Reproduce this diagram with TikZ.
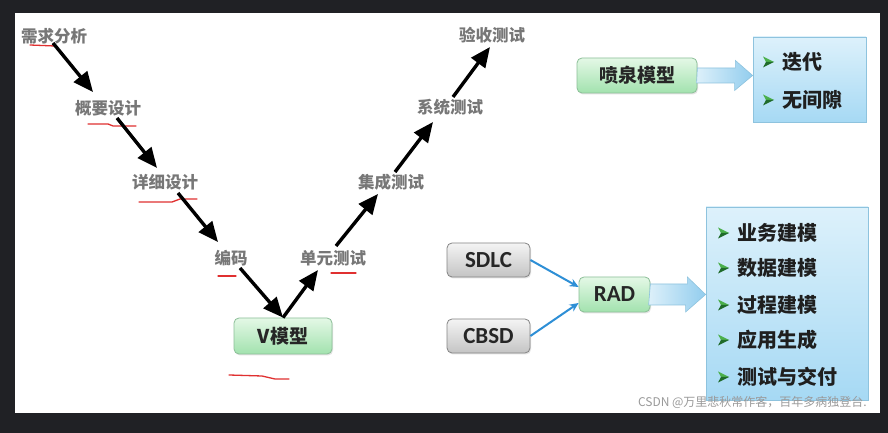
\documentclass[tikz,border=0pt]{standalone}
\usepackage{fontspec}
\newfontfamily\cjk{Noto Sans CJK SC}
\newfontfamily\lat{Carlito}
\usetikzlibrary{arrows.meta,shadows,calc}
\definecolor{framec}{HTML}{202125}
\definecolor{lblc}{HTML}{777777}
\definecolor{ulred}{HTML}{E03030}
\definecolor{gtop}{HTML}{E4F8E6}
\definecolor{gbot}{HTML}{A2E2AE}
\definecolor{gbord}{HTML}{8CBF98}
\definecolor{btop}{HTML}{DDF1FB}
\definecolor{bbot}{HTML}{A6D9F4}
\definecolor{bbord}{HTML}{8EC3DE}
\definecolor{grtop}{HTML}{F4F4F4}
\definecolor{grbot}{HTML}{C4C4C4}
\definecolor{grbord}{HTML}{858585}
\definecolor{blueln}{HTML}{2E8FD6}
\definecolor{bulletc}{HTML}{4CB04C}
\definecolor{bulletd}{HTML}{1F6B2A}
\definecolor{aleft}{HTML}{DDF0FA}
\definecolor{aright}{HTML}{92CDEE}
\definecolor{wmark}{HTML}{9A9A9A}
\begin{document}
\begin{tikzpicture}[x=1pt,y=1pt,
  lbl/.style={font=\cjk\bfseries\fontsize{16.5}{18}\selectfont, text=lblc, inner sep=0pt},
  vline/.style={line width=3.4pt, -{Triangle[length=20pt,width=17pt]}},
  ul/.style={ulred, line width=1.3pt, line cap=round, line join=round},
  gbox/.style={draw=gbord, line width=0.8pt, rounded corners=5pt, top color=gtop, bottom color=gbot,
    drop shadow={opacity=0.22,shadow xshift=1pt,shadow yshift=-1.5pt},
    font=\cjk\bfseries\fontsize{19}{21}\selectfont, text=black!85, inner sep=0pt},
  graybox/.style={draw=grbord, line width=0.8pt, rounded corners=5pt, top color=grtop, bottom color=grbot,
    drop shadow={opacity=0.22,shadow xshift=1pt,shadow yshift=-1.5pt},
    font=\lat\bfseries\fontsize{23}{25}\selectfont, text=black!85, inner sep=0pt,
    minimum width=83pt, minimum height=34pt},
  bluebox/.style={draw=bbord, line width=0.8pt, top color=btop, bottom color=bbot, inner sep=0pt,
    drop shadow={opacity=0.18,shadow xshift=1pt,shadow yshift=-1.5pt}},
  item/.style={font=\cjk\bfseries\fontsize{20}{22}\selectfont, text=black!88, inner sep=0pt, anchor=west},
  barrow/.style={draw=bbord, line width=0.6pt, left color=aleft, right color=aright},
  thinarrow/.style={blueln, line width=2pt, -{Stealth[length=9pt,width=8pt]}},
  bulletpic/.pic={
    \fill[bulletc] (6,0) -- (-5,5.5) -- (-2,0) -- cycle;
    \fill[bulletd] (6,0) -- (-2,0) -- (-5,-5.5) -- cycle;}
]
\useasboundingbox (0,0) rectangle (888,433);
\fill[framec] (0,0) rectangle (888,433);
\fill[white] (15,20) rectangle (880,420);

% V-model labels
\node[lbl] (n1) at (54,397) {需求分析};
\node[lbl] (n2) at (108,325) {概要设计};
\node[lbl] (n3) at (165,251) {详细设计};
\node[lbl] (n4) at (231,175) {编码};
\node[lbl] (n5) at (333,175) {单元测试};
\node[lbl] (n6) at (391,251) {集成测试};
\node[lbl] (n7) at (450,326) {系统测试};
\node[lbl] (n8) at (492,398) {验收测试};
\node[gbox, minimum width=98pt, minimum height=36pt] (v) at (283,97) {V模型};

% red hand-drawn underlines
\draw[ul] (30,388) -- (55,387);
\draw[ul] (88,309) -- (108,309) -- (113,307) -- (136,307);
\draw[ul] (139,231) -- (172,231) -- (180,234) -- (197,234);
\draw[ul] (218,157) -- (236,157);
\draw[ul] (331,160) -- (356,160);
\draw[ul] (229,58) -- (262,57) -- (275,54) -- (289,54);

% V-model arrows
\draw[vline] ([shift={(-1,-7)}]n1.center) -- ([shift={(-15,16)}]n2.center);
\draw[vline] ([shift={(9,-10)}]n2.center) -- ([shift={(-8,14)}]n3.center);
\draw[vline] ([shift={(13,-11)}]n3.center) -- ([shift={(-13,16)}]n4.center);
\draw[vline] ([shift={(9,-10)}]n4.center) -- (v.north);
\draw[vline] (v.north) -- ([shift={(-15,-12)}]n5.center);
\draw[vline] ([shift={(3,12)}]n5.center) -- ([shift={(-13,-12)}]n6.center);
\draw[vline] ([shift={(4,10)}]n6.center) -- ([shift={(-17,-15)}]n7.center);
\draw[vline] ([shift={(3,10)}]n7.center) -- ([shift={(-2,-12)}]n8.center);

% fountain model
\node[gbox, minimum width=120pt, minimum height=35pt] (fq) at (637,357.5) {喷泉模型};
\node[bluebox, minimum width=113pt, minimum height=85pt] (fs) at (809.5,353.5) {};
\draw[barrow] ([yshift=7.5pt]fq.east) -- ++(38,0) -- ++(0,7.5) -- ($(fs.west |- fq.east)$) -- ++(-18,-15) -- ++(0,7.5) -- ++(-38,0) -- cycle;
\node[item] (f1) at (782,371) {迭代};
\node[item] (f2) at (782,333) {无间隙};
\foreach \n in {f1,f2} \pic at ([xshift=-14pt]\n.west) {bulletpic};

% RAD
\node[graybox] (sdlc) at (488.5,173) {SDLC};
\node[graybox] (cbsd) at (488.5,97) {CBSD};
\node[gbox, font=\lat\bfseries\fontsize{23}{25}\selectfont, minimum width=71pt, minimum height=35pt] (rad) at (614.5,138.5) {RAD};
\draw[thinarrow] (sdlc.east) -- ([yshift=7.5pt]rad.west);
\draw[thinarrow] (cbsd.east) -- ([yshift=-8.5pt]rad.west);
\node[bluebox, minimum width=162pt, minimum height=193pt] (rs) at (787,129.5) {};
\draw[barrow] ([yshift=10.5pt]rad.east) -- ++(37,0) -- ++(0,7) -- ($(rs.west |- rad.east)$) -- ++(-20,-17.5) -- ++(0,7) -- ++(-37,0) -- cycle;
\node[item] (r1) at (737,200) {业务建模};
\node[item] (r2) at (737,165) {数据建模};
\node[item] (r3) at (737,128) {过程建模};
\node[item] (r4) at (737,93) {应用生成};
\node[item] (r5) at (737,56) {测试与交付};
\foreach \n in {r1,r2,r3,r4,r5} \pic at ([xshift=-14pt]\n.west) {bulletpic};

% watermark
\node[anchor=east, inner sep=0pt, font=\cjk\fontsize{12}{13}\selectfont, text=wmark] (wm) at (867,31) {CSDN @万里悲秋常作客，百年多病独登台.};
\end{tikzpicture}
\end{document}
